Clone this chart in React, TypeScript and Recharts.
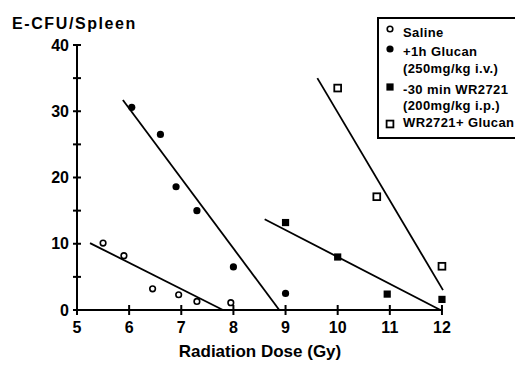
import {
  ComposedChart,
  Scatter,
  Line,
  XAxis,
  YAxis,
  Legend,
  Label,
} from 'recharts';

const FONT = '"Liberation Sans", Arial, Helvetica, sans-serif';

// measured points (dose in Gy, E-CFU per spleen)
const salineX = [5.5, 5.9, 6.45, 6.95, 7.3, 7.95];
const salineY = [10.1, 8.2, 3.2, 2.3, 1.3, 1.1];
const glucanX = [6.05, 6.6, 6.9, 7.3, 8.0, 9.0];
const glucanY = [30.6, 26.5, 18.6, 15.0, 6.5, 2.5];
const wrX = [9, 10, 10.95, 12];
const wrY = [13.2, 8.0, 2.4, 1.6];
const wrGlucanX = [10, 10.75, 12];
const wrGlucanY = [33.5, 17.1, 6.6];

// regression lines (end points)
const salineFitX = [5.25, 7.8];
const salineFitY = [10.1, 0];
const glucanFitX = [5.88, 8.88];
const glucanFitY = [31.7, 0];
const wrFitX = [8.6, 11.97];
const wrFitY = [13.7, 0];
const wrGlucanFitX = [9.61, 12.02];
const wrGlucanFitY = [35.0, 3.0];

const xTicks = [5, 6, 7, 8, 9, 10, 11, 12];
const yTicks = [0, 5, 10, 15, 20, 25, 30, 35, 40];

const toPoints = (xs: number[], ys: number[]) => xs.map((x, i) => ({ x, y: ys[i] }));

const OpenCircle = (p: any) => (
  <circle cx={p.cx} cy={p.cy} r={2.8} fill="#fff" stroke="#000" strokeWidth={1.6} />
);
const FilledCircle = (p: any) => <circle cx={p.cx} cy={p.cy} r={3.6} fill="#000" />;
const FilledSquare = (p: any) => (
  <rect x={p.cx - 3.6} y={p.cy - 3.6} width={7.2} height={7.2} fill="#000" />
);
const OpenSquare = (p: any) => (
  <rect x={p.cx - 3.4} y={p.cy - 3.4} width={6.8} height={6.8} fill="#fff" stroke="#000" strokeWidth={1.8} />
);

const YTick = ({ x, y, payload }: any) => (
  <g>
    <line x1={x - 4} x2={x + 4} y1={y} y2={y} stroke="#000" strokeWidth={2} />
    {payload.value % 10 === 0 && (
      <text x={x - 8} y={y} dy={5.5} textAnchor="end" fontFamily={FONT} fontWeight="bold" fontSize={16} fill="#000">
        {payload.value}
      </text>
    )}
  </g>
);

const XTick = ({ x, y, payload }: any) => (
  <g>
    <line x1={x} x2={x} y1={y - 5} y2={y + 5} stroke="#000" strokeWidth={2} />
    <text x={x} y={y + 23} textAnchor="middle" fontFamily={FONT} fontWeight="bold" fontSize={16} fill="#000">
      {payload.value}
    </text>
  </g>
);

const legendRows = [
  { sym: 'openCircle', symY: 10, lines: [{ text: 'Saline', y: 18 }] },
  { sym: 'filledCircle', symY: 30, lines: [{ text: '+1h Glucan', y: 37 }, { text: '(250mg/kg i.v.)', y: 54 }] },
  { sym: 'filledSquare', symY: 68, lines: [{ text: '-30 min WR2721', y: 75 }, { text: '(200mg/kg i.p.)', y: 91 }] },
  { sym: 'openSquare', symY: 105, lines: [{ text: 'WR2721+ Glucan', y: 108 }] },
];

const LegendBox = () => (
  <div
    style={{
      width: 180,
      minWidth: 180,
      height: 122,
      border: '2px solid #000',
      background: '#fff',
      boxSizing: 'border-box',
    }}
  >
    <svg width={176} height={118} style={{ display: 'block' }}>
      {legendRows.map((r, i) => (
        <g key={i}>
          {r.sym === 'openCircle' && <OpenCircle cx={11} cy={r.symY} />}
          {r.sym === 'filledCircle' && <FilledCircle cx={11} cy={r.symY} />}
          {r.sym === 'filledSquare' && <FilledSquare cx={11} cy={r.symY} />}
          {r.sym === 'openSquare' && <OpenSquare cx={11} cy={r.symY} />}
          {r.lines.map((l, j) => (
            <text key={j} x={24} y={l.y} fontFamily={FONT} fontWeight="bold" fontSize={13} letterSpacing={0.4} fill="#000">
              {l.text}
            </text>
          ))}
        </g>
      ))}
    </svg>
  </div>
);

export default function App() {
  return (
    <div
      style={{
        position: 'absolute',
        left: 0,
        top: 0,
        width: 515,
        height: 366,
        overflow: 'hidden',
        background: '#fff',
      }}
    >
      <ComposedChart width={515} height={366} margin={{ top: 45, right: 72, bottom: 0, left: 0 }}>
        <XAxis
          dataKey="x"
          type="number"
          domain={[5, 12]}
          ticks={xTicks}
          interval={0}
          height={56}
          tickLine={false}
          tickSize={0}
          tickMargin={0}
          tick={<XTick />}
          axisLine={{ stroke: '#000', strokeWidth: 2 }}
        >
          <Label
            content={({ viewBox }: any) => (
              <text
                x={viewBox.x + viewBox.width / 2}
                y={viewBox.y + 47}
                textAnchor="middle"
                fontFamily={FONT}
                fontWeight="bold"
                fontSize={17}
                fill="#000"
              >
                Radiation Dose (Gy)
              </text>
            )}
          />
        </XAxis>
        <YAxis
          type="number"
          domain={[0, 40]}
          ticks={yTicks}
          interval={0}
          width={77}
          tickLine={false}
          tickSize={0}
          tickMargin={0}
          tick={<YTick />}
          axisLine={{ stroke: '#000', strokeWidth: 2 }}
        >
          <Label
            content={({ viewBox }: any) => (
              <text
                x={12}
                y={viewBox.y - 16}
                textAnchor="start"
                fontFamily={FONT}
                fontWeight="bold"
                fontSize={16}
                letterSpacing={1.6}
                fill="#000"
              >
                E-CFU/Spleen
              </text>
            )}
          />
        </YAxis>
        <Legend
          layout="horizontal"
          verticalAlign="middle"
          align="center"
          content={() => <LegendBox />}
          wrapperStyle={{ position: 'absolute', left: 377, top: 17, width: 180 }}
        />

        <Line data={toPoints(salineFitX, salineFitY)} dataKey="y" type="linear" stroke="#000" strokeWidth={1.8} dot={false} activeDot={false} isAnimationActive={false} legendType="none" />
        <Line data={toPoints(glucanFitX, glucanFitY)} dataKey="y" type="linear" stroke="#000" strokeWidth={1.8} dot={false} activeDot={false} isAnimationActive={false} legendType="none" />
        <Line data={toPoints(wrFitX, wrFitY)} dataKey="y" type="linear" stroke="#000" strokeWidth={1.8} dot={false} activeDot={false} isAnimationActive={false} legendType="none" />
        <Line data={toPoints(wrGlucanFitX, wrGlucanFitY)} dataKey="y" type="linear" stroke="#000" strokeWidth={1.8} dot={false} activeDot={false} isAnimationActive={false} legendType="none" />

        <Scatter name="Saline" data={toPoints(salineX, salineY)} dataKey="y" shape={OpenCircle} isAnimationActive={false} />
        <Scatter name="+1h Glucan" data={toPoints(glucanX, glucanY)} dataKey="y" shape={FilledCircle} isAnimationActive={false} />
        <Scatter name="-30 min WR2721" data={toPoints(wrX, wrY)} dataKey="y" shape={FilledSquare} isAnimationActive={false} />
        <Scatter name="WR2721+ Glucan" data={toPoints(wrGlucanX, wrGlucanY)} dataKey="y" shape={OpenSquare} isAnimationActive={false} />
      </ComposedChart>
    </div>
  );
}
